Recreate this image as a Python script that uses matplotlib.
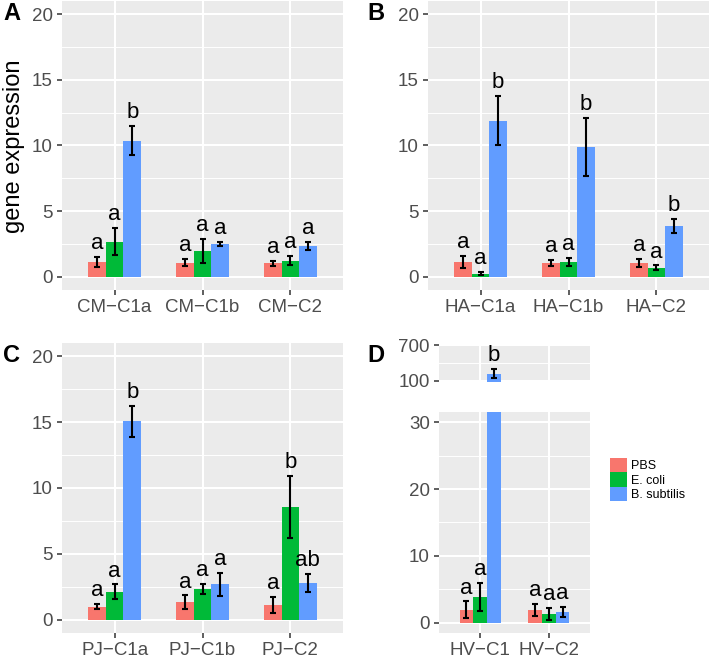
import numpy as np
import matplotlib
matplotlib.use('Agg')
import matplotlib.pyplot as plt
from matplotlib.patches import Patch

plt.rcParams['font.family'] = ['Liberation Sans', 'DejaVu Sans']

groups = ['PBS', 'E. coli', 'B. subtilis']
colors = ['#F8766D', '#00BA38', '#619CFF']

cm_genes = ['CM\u2212C1a', 'CM\u2212C1b', 'CM\u2212C2']
cm_mean = [[1.14, 2.69, 10.38], [1.07, 1.98, 2.51], [1.02, 1.24, 2.36]]
cm_err = [[0.38, 1.04, 1.14], [0.27, 0.89, 0.18], [0.20, 0.33, 0.28]]
cm_sig = [['a', 'a', 'b'], ['a', 'a', 'a'], ['a', 'a', 'a']]

ha_genes = ['HA\u2212C1a', 'HA\u2212C1b', 'HA\u2212C2']
ha_mean = [[1.14, 0.25, 11.88], [1.07, 1.14, 9.90], [1.07, 0.71, 3.88]]
ha_err = [[0.43, 0.13, 1.87], [0.22, 0.33, 2.22], [0.30, 0.17, 0.52]]
ha_sig = [['a', 'a', 'b'], ['a', 'a', 'b'], ['a', 'a', 'b']]

pj_genes = ['PJ\u2212C1a', 'PJ\u2212C1b', 'PJ\u2212C2']
pj_mean = [[1.01, 2.13, 15.06], [1.32, 2.33, 2.68], [1.14, 8.58, 2.78]]
pj_err = [[0.19, 0.56, 1.16], [0.53, 0.38, 0.87], [0.60, 2.34, 0.70]]
pj_sig = [['a', 'a', 'b'], ['a', 'a', 'a'], ['a', 'b', 'ab']]

hv_genes = ['HV\u2212C1', 'HV\u2212C2']
hv_mean = [[1.99, 3.88, 220.0], [1.99, 1.34, 1.64]]
hv_err = [[1.24, 2.09, 78.0], [0.90, 0.92, 0.75]]
hv_sig = [['a', 'a', 'b'], ['a', 'a', 'a']]

W, H = 709, 658
fig = plt.figure(figsize=(W / 100, H / 100), dpi=100)


def box(l, t, r, b):
    return [l / W, 1 - b / H, (r - l) / W, (b - t) / H]


def style(ax, ylim, major, minor, cats=None):
    ax.set_facecolor('#EBEBEB')
    for s in ax.spines.values():
        s.set_visible(False)
    n = len(cats) if cats else 2
    ax.set_xlim(0.4, n + 0.6)
    ax.set_ylim(*ylim)
    ax.set_yticks(major)
    ax.set_yticks(minor, minor=True)
    ax.set_xticks(np.arange(1, n + 1))
    ax.grid(True, which='major', color='white', lw=1.5)
    ax.grid(True, which='minor', axis='y', color='white', lw=0.7)
    ax.set_axisbelow(True)
    ax.tick_params(which='minor', length=0)
    ax.tick_params(which='major', length=3.5, width=1.1, color='#333333',
                   labelcolor='#4D4D4D', labelsize=13.5, pad=3)
    if cats:
        ax.set_xticklabels(cats)
    else:
        ax.tick_params(axis='x', length=0, labelbottom=False)


def draw(ax, mean, err, sig):
    mean = np.array(mean)
    err = np.array(err)
    x = np.arange(1, len(mean) + 1)
    lo, hi = ax.get_ylim()
    for j in range(3):
        xs = x + (j - 1) * 0.2
        ax.bar(xs, mean[:, j], width=0.2, color=colors[j])
        ax.errorbar(xs, mean[:, j], yerr=err[:, j], fmt='none', ecolor='black',
                    elinewidth=1.5, capsize=2.5, capthick=1.5)
        for i in range(len(x)):
            top = mean[i, j] + err[i, j]
            if lo < top < hi:
                ax.annotate(sig[i][j], (xs[i], top), xytext=(0, 2),
                            textcoords='offset points', ha='center', va='bottom',
                            fontsize=16, color='black')


axA = fig.add_axes(box(62, 1, 343, 290))
style(axA, (-1, 21), [0, 5, 10, 15, 20], [2.5, 7.5, 12.5, 17.5], cm_genes)
draw(axA, cm_mean, cm_err, cm_sig)

axB = fig.add_axes(box(428, 1, 709, 290))
style(axB, (-1, 21), [0, 5, 10, 15, 20], [2.5, 7.5, 12.5, 17.5], ha_genes)
draw(axB, ha_mean, ha_err, ha_sig)

axC = fig.add_axes(box(62, 343, 343, 633))
style(axC, (-1, 21), [0, 5, 10, 15, 20], [2.5, 7.5, 12.5, 17.5], pj_genes)
draw(axC, pj_mean, pj_err, pj_sig)

axDt = fig.add_axes(box(439, 345, 590, 382))
style(axDt, (78, 700), [100, 700], [400])
draw(axDt, hv_mean, hv_err, hv_sig)

axDb = fig.add_axes(box(439, 412, 590, 633))
style(axDb, (-1.5, 31.5), [0, 10, 20, 30], [5, 15, 25], hv_genes)
draw(axDb, hv_mean, hv_err, hv_sig)

fig.text(14 / W, 1 - 146 / H, 'gene expression', rotation=90, ha='center',
         va='center', fontsize=17)
for letter, lx, ly in [('A', 3, 14), ('B', 367, 14), ('C', 3, 355), ('D', 367, 356)]:
    fig.text(lx / W, 1 - ly / H, letter, fontsize=17, fontweight='bold',
             ha='left', va='center')

handles = [Patch(facecolor=c, edgecolor='none') for c in colors]
fig.legend(handles, groups, loc='upper left', bbox_to_anchor=(610 / W, 1 - 458 / H),
           frameon=False, fontsize=9, borderpad=0, borderaxespad=0,
           handlelength=1.36, handleheight=1.4, labelspacing=0, handletextpad=0.35)

fig.savefig('out.png', dpi=100)
